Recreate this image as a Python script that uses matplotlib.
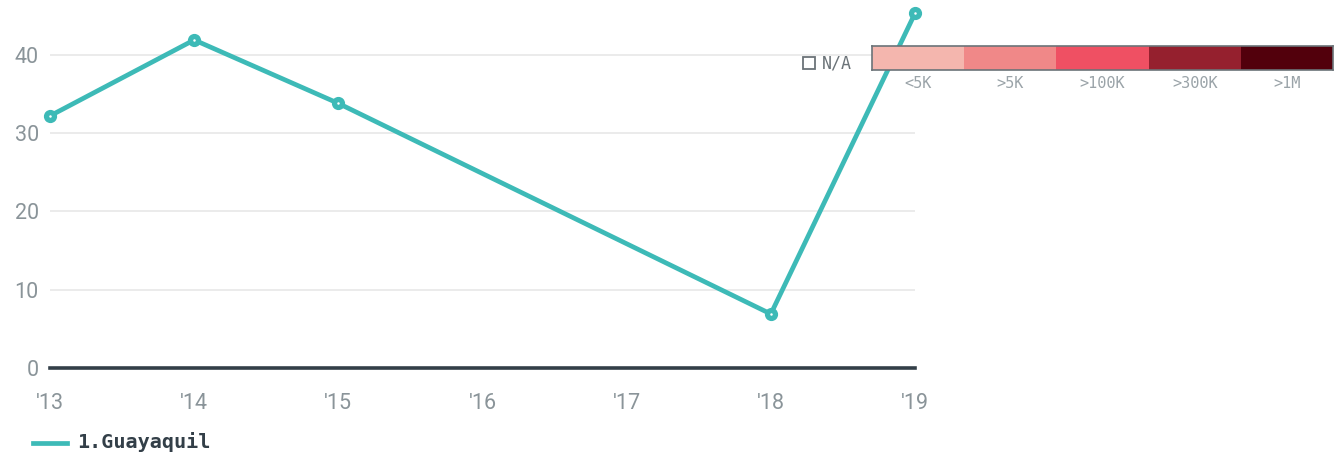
import matplotlib.pyplot as plt
from matplotlib.patches import Rectangle
from matplotlib.lines import Line2D

years = [2013, 2014, 2015, 2018, 2019]
values = [32.2, 41.9, 33.8, 6.9, 45.3]
tick_years = [2013, 2014, 2015, 2016, 2017, 2018, 2019]
tick_labels = ["'13", "'14", "'15", "'16", "'17", "'18", "'19"]
series_name = "1.Guayaquil"

scale_labels = ["<5K", ">5K", ">100K", ">300K", ">1M"]
scale_colors = ["#f4b6ae", "#f08888", "#ef5063", "#95202e", "#52000c"]

W, H = 1340, 461
fig = plt.figure(figsize=(W / 100, H / 100), dpi=100)

# main axes: x 50..915 px, y 0..368 px
ax = fig.add_axes([50 / W, (H - 368) / H, (915 - 50) / W, 368 / H])
ax.set_xlim(2013, 2019)
ax.set_ylim(0, 47.0)

for s in ax.spines.values():
    s.set_visible(False)
for yv in [10, 20, 30, 40]:
    ax.axhline(yv, color="#e8e8e8", lw=1.2, zorder=0)
ax.axhline(0, color="#333f48", lw=2.6, zorder=2, clip_on=False)

ax.plot(years, values, color="#3dbab7", lw=3.4, zorder=3, clip_on=False,
        marker="o", ms=8.5, mfc="#3dbab7", mec="#3dbab7")
ax.plot(years, values, ls="none", marker="o", ms=1.8, mfc="white", mec="none",
        zorder=4, clip_on=False)

ax.set_xticks(tick_years)
ax.set_xticklabels(tick_labels)
ax.set_yticks([0, 10, 20, 30, 40])
ax.tick_params(length=0, labelsize=15.5, colors="#8a9499")
ax.tick_params(axis="x", pad=18)
ax.tick_params(axis="y", pad=8)
for lbl in ax.get_xticklabels() + ax.get_yticklabels():
    lbl.set_fontfamily("Roboto")
    lbl.set_color("#8a9499")

# series legend
fig.add_artist(Line2D([33 / W, 67 / W], [(H - 443) / H] * 2, color="#3dbab7", lw=3.4))
fig.text(77 / W, (H - 442) / H, series_name, fontsize=14.5, fontweight="bold",
         family="DejaVu Sans Mono", color="#333f48", va="center", ha="left")

# colour scale legend
cax = fig.add_axes([872 / W, (H - 70) / H, (1333 - 872) / W, 24 / H])
cax.set_xlim(0, len(scale_colors))
cax.set_ylim(0, 1)
for i, c in enumerate(scale_colors):
    cax.barh(0.5, 1, left=i, height=1, color=c, edgecolor="none")
for s in cax.spines.values():
    s.set_color("#6b7378")
    s.set_linewidth(1.2)
cax.set_yticks([])
cax.set_xticks([i + 0.5 for i in range(len(scale_labels))])
cax.set_xticklabels(scale_labels)
cax.tick_params(length=0, labelsize=11, colors="#9aa3a8", pad=4)
for lbl in cax.get_xticklabels():
    lbl.set_fontfamily("DejaVu Sans Mono")

fig.add_artist(Rectangle((803 / W, (H - 69) / H), 12 / W, 12 / H, fill=False,
                         edgecolor="#6b7378", lw=1.3))
fig.text(822 / W, (H - 64) / H, "N/A", fontsize=12, family="DejaVu Sans Mono",
         color="#6b7378", va="center", ha="left")

fig.savefig("out.png", dpi=100)
